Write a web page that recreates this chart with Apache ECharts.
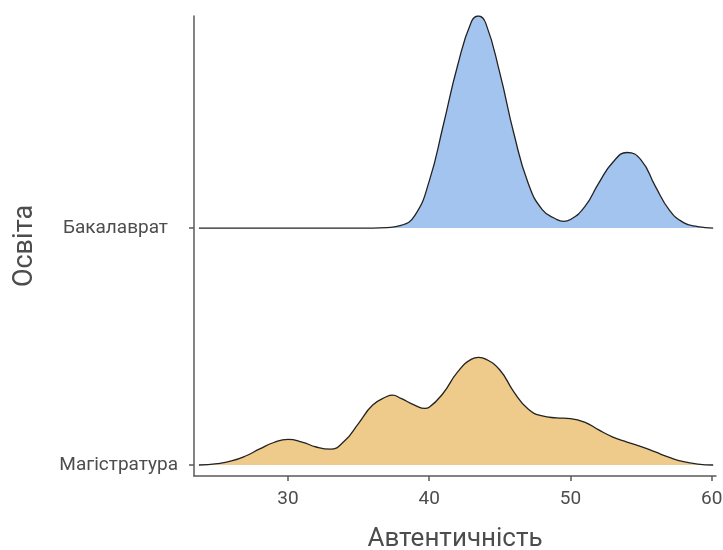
<!DOCTYPE html>
<html>
<head>
<meta charset="utf-8">
<script src="https://cdn.jsdelivr.net/npm/echarts@6/dist/echarts.min.js"></script>
<style>html,body{margin:0;padding:0;background:#fff}#c{width:723px;height:550px}</style>
</head>
<body>
<div id="c"></div>
<script>
// Categories (ridge baselines: Магістратура = 1, Бакалаврат = 2)
const categories = ['Магістратура', 'Бакалаврат'];
const xTicks = [30, 40, 50, 60];

// Density heights (in units of ridge spacing)
const bachelorX = [23.7, 35, 36, 37, 38, 39, 40, 41, 42, 43, 43.5, 44, 45, 46, 47, 48, 49, 49.5, 50, 51, 52, 53, 54, 55, 56, 57, 58, 59, 60.1];
const bachelorH = [0, 0, 0, 0.002, 0.011, 0.055, 0.198, 0.435, 0.684, 0.873, 0.895, 0.865, 0.654, 0.397, 0.19, 0.078, 0.037, 0.028, 0.036, 0.089, 0.19, 0.278, 0.319, 0.287, 0.177, 0.076, 0.023, 0.006, 0];

const masterX = [23.7, 25, 26, 27, 28, 29, 30, 31, 32, 33, 34, 35, 36, 37, 37.4, 38, 39, 39.7, 40, 41, 42, 43, 43.5, 44, 45, 46, 47, 48, 49, 50, 51, 52, 53, 54, 55, 56, 57, 58, 59, 60.1];
const masterH = [0, 0.006, 0.017, 0.038, 0.068, 0.095, 0.108, 0.097, 0.076, 0.067, 0.101, 0.176, 0.253, 0.289, 0.295, 0.281, 0.252, 0.239, 0.244, 0.304, 0.392, 0.447, 0.454, 0.447, 0.401, 0.308, 0.236, 0.207, 0.199, 0.196, 0.181, 0.148, 0.118, 0.097, 0.078, 0.055, 0.032, 0.014, 0.004, 0];

const baseMaster = 1, baseBachelor = 2;
const toData = (xs, hs, base) => xs.map((x, i) => [x, base + hs[i]]);

const font = 'Roboto, "Liberation Sans", sans-serif';
const axisColor = '#5a5a5a';
const textColor = '#4d4d4d';

const chart = echarts.init(document.getElementById('c'), null, {renderer: 'canvas'});
chart.setOption({
  animation: false,
  backgroundColor: '#fff',
  grid: {left: 194, right: 7, top: 16, bottom: 74, containLabel: false, outerBoundsMode: 'none'},
  xAxis: {
    type: 'value',
    min: 23.35, max: 60.3,
    name: 'Автентичність',
    nameLocation: 'middle',
    nameGap: 50,
    nameTextStyle: {fontFamily: font, fontSize: 26, color: textColor},
    axisLine: {show: true, onZero: false, lineStyle: {color: axisColor, width: 1.5}},
    axisTick: {show: true, customValues: xTicks, length: 5, lineStyle: {color: axisColor, width: 1.5}},
    axisLabel: {customValues: xTicks, margin: 14, fontFamily: font, fontSize: 19, color: textColor},
    splitLine: {show: false}
  },
  yAxis: {
    type: 'value',
    min: 0.9536, max: 2.895,
    name: 'Освіта',
    nameLocation: 'middle',
    nameRotate: 90,
    nameGap: 155,
    nameTextStyle: {fontFamily: font, fontSize: 27, color: textColor},
    axisLine: {show: true, onZero: false, lineStyle: {color: axisColor, width: 1.5}},
    axisTick: {show: true, customValues: [1, 2], length: 5, lineStyle: {color: axisColor, width: 1.5}},
    axisLabel: {
      customValues: [1, 2],
      margin: 16,
      fontFamily: font, fontSize: 19, color: textColor,
      formatter: v => {
        const name = categories[Math.round(v) - 1];
        return Math.round(v) === 2 ? '{b|' + name + '}' : '{a|' + name + '}';
      },
      rich: {
        a: {fontFamily: font, fontSize: 19, color: textColor},
        b: {fontFamily: font, fontSize: 19, color: textColor, padding: [0, 10, 0, 0]}
      }
    },
    splitLine: {show: false}
  },
  series: [
    {
      name: categories[0], type: 'line', smooth: 0.5, symbol: 'none',
      data: toData(masterX, masterH, baseMaster),
      lineStyle: {color: '#222', width: 1.3},
      areaStyle: {color: '#efcb8b', opacity: 1, origin: baseMaster},
      z: 2
    },
    {
      name: categories[1], type: 'line', smooth: 0.5, symbol: 'none',
      data: toData(bachelorX, bachelorH, baseBachelor),
      lineStyle: {color: '#222', width: 1.3},
      areaStyle: {color: '#a4c4f0', opacity: 1, origin: baseBachelor},
      z: 3
    }
  ]
});
</script>
</body>
</html>
